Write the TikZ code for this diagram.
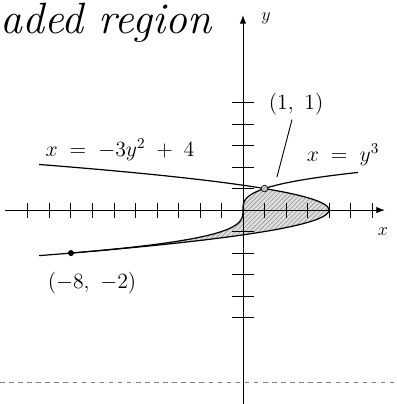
\documentclass[tikz,border=0pt]{standalone}
\usetikzlibrary{arrows.meta,patterns}

\begin{document}
\begin{tikzpicture}[>=Latex,x=0.5cm,y=0.5cm]
  \tikzstyle{curve}=[thick,smooth,samples=80]
  \tikzstyle{lbl}=[font=\Large,inner sep=1pt]
  \tikzstyle{tickmark}=[semithick]
  \useasboundingbox (-11.30,-9.02) rectangle (7.12,9.77);
  % shaded region between the two curves
  \fill[gray!25] plot[smooth,domain=1:-2,samples=80] ({-3*\x*\x+4},\x) -- plot[smooth,domain=-2:1,samples=80] ({\x*\x*\x},\x) -- cycle;
  \fill[pattern=north east lines,pattern color=gray!80] plot[smooth,domain=1:-2,samples=80] ({-3*\x*\x+4},\x) -- plot[smooth,domain=-2:1,samples=80] ({\x*\x*\x},\x) -- cycle;
  % axes and ticks
  \draw[semithick,->] (-11.07,0) -- (6.6,0);
  \draw[semithick,->] (0,-9.5) -- (0,9.07);
  \foreach \i in {-10,-9,...,-1,1,2,...,6}
    \draw[tickmark] (\i,-0.35) -- (\i,0.35);
  \foreach \j in {-5,-4,...,-1,1,2,...,5}
    \draw[tickmark] (-0.5,\j) -- (0.5,\j);
  \node[font=\large] (xlab) at (6.51,-0.98) {$x$};
  \node[font=\large] (ylab) at (1.07,8.93) {$y$};
  % the curves
  \draw[curve,domain=-2.12:2.12] plot ({-3*\x*\x+4},\x);
  \draw[curve,domain=-2:1.75] plot ({\x*\x*\x},\x);
  \coordinate (p11) at (1,1);
  \coordinate (p82) at (-8,-2);
  \coordinate (lead11) at (1.58,1.53);
  \fill (p82) circle (2pt);
  \draw[fill=gray!50] (p11) circle (2.2pt);
  % labels
  \node[lbl] (lab11) at (2.47,4.93) {$(1,\ 1)$};
  \node[lbl] (labpar) at (-5.72,2.79) {$x \;=\; -3y^2 \;+\; 4$};
  \node[lbl] (labcub) at (4.65,2.56) {$x \;=\; y^3$};
  \node[lbl] (lab82) at (-7.02,-3.40) {$(-8,\ -2)$};
  \draw[semithick,shorten <=2pt] (lab11) -- (lead11);
  \node[anchor=base west,inner sep=0pt,font=\fontsize{29}{33}\selectfont\itshape] (title) at (-11.30,8.2) {aded region};
  % bottom rule
  \draw[gray,dashed,very thin] (-11.30,-8) -- (7.12,-8);
\end{tikzpicture}
\end{document}
